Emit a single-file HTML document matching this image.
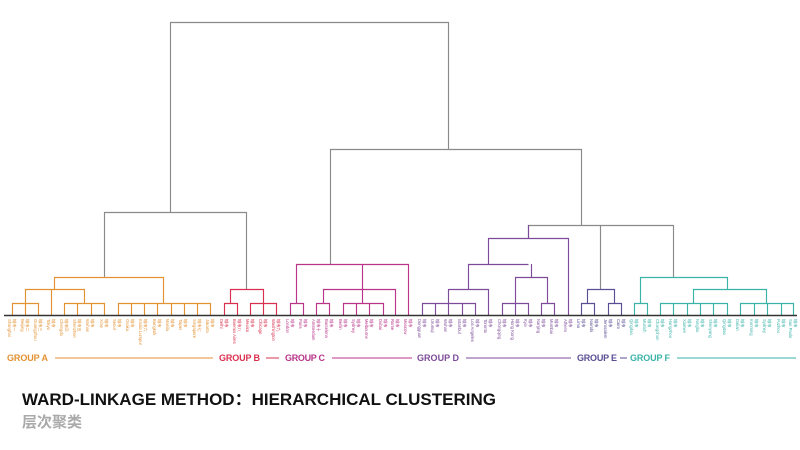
<!DOCTYPE html>
<html><head><meta charset="utf-8"><style>
html,body{margin:0;padding:0;background:#fff;width:800px;height:450px;overflow:hidden}
svg{display:block}
.lb{font-family:"Liberation Sans","Noto Sans CJK SC",sans-serif;font-size:4.2px}
.zh{font-family:"Noto Sans CJK SC",sans-serif;font-size:4.2px}
.g{font-family:"Liberation Sans",sans-serif;font-weight:bold;font-size:9px}
</style></head><body>
<svg width="800" height="450" viewBox="0 0 800 450" xmlns="http://www.w3.org/2000/svg">
<g fill="none" stroke-width="1.15">
<g stroke="#8a8a8a">
<path d="M170.5 212V22.5H448.5V149"/>
<path d="M104.5 277V212.5H246.5V289"/>
<path d="M330.5 264V149.5H581.5V225"/>
<path d="M528.5 238V225.5H673.5V277"/>
<path d="M600.5 289V225"/>
</g>
<g stroke="#e39233">
<path d="M12.5 315V303.5H38.5V315M25.5 315V289M51.5 315V289"/>
<path d="M25.5 289.5H84.5M84.5 289V303M64.5 315V303.5H104.5V315M77.5 315V303M91.5 315V303"/>
<path d="M54.5 289V277.5H163.5V303"/>
<path d="M118.5 315V303.5H210.5V315M131.5 315V303M144.5 315V303M157.5 315V303M171.5 315V303M184.5 315V303M197.5 315V303"/>
</g>
<g stroke="#d9304f">
<path d="M224.5 315V303.5H237.5V315M230.5 303V289.5H263.5V303M250.5 315V303.5H276.5V315M263.5 315V303"/>
</g>
<g stroke="#b8358a">
<path d="M290.5 315V303.5H303.5V315M296.5 303V264.5H408.5V315"/>
<path d="M316.5 315V303.5H329.5V315M323.5 303V289.5H395.5V315"/>
<path d="M343.5 315V303.5H383.5V315M356.5 315V303M369.5 315V303M362.5 303V264"/>
</g>
<g stroke="#7d4b9a">
<path d="M422.5 315V303.5H475.5V315M435.5 315V303M448.5 315V289M462.5 315V303"/>
<path d="M448.5 289.5H488.5V315M468.5 289V264.5H528.5"/>
<path d="M502.5 315V303.5H528.5V315M515.5 315V277.5H547.5V303M541.5 315V303.5H554.5V315M531.5 277V264"/>
<path d="M488.5 264V238.5H568.5V315M528.5 238V225"/>
</g>
<g stroke="#5a4e94">
<path d="M581.5 315V303.5H594.5V315M587.5 303V289.5H614.5V303M608.5 315V303.5H621.5V315"/>
</g>
<g stroke="#3bb3a9">
<path d="M634.5 315V303.5H647.5V315M640.5 303V277.5H727.5V289"/>
<path d="M660.5 315V303.5H727.5V315M673.5 315V303M687.5 315V303M700.5 315V303M713.5 315V303M693.5 303V289.5H766.5V303"/>
<path d="M740.5 315V303.5H793.5V315M754.5 315V303M767.5 315V303M781.5 315V303"/>
</g>
</g>
<line x1="4" y1="315.5" x2="797" y2="315.5" stroke="#333" stroke-width="1.6"/>

<g class="lb" fill="#e39233">
<text transform="translate(8,319) rotate(90)">Shanghai</text><text transform="translate(21,319) rotate(90)">Beijing</text><text transform="translate(34,319) rotate(90)">Guangzhou</text><text transform="translate(47,319) rotate(90)">Tokyo</text><text transform="translate(60,319) rotate(90)">Chengdu</text><text transform="translate(73,319) rotate(90)">Shenzhen</text><text transform="translate(86,319) rotate(90)">Wuhan</text><text transform="translate(100,319) rotate(90)">Xi'an</text><text transform="translate(113,319) rotate(90)">Seoul</text><text transform="translate(126,319) rotate(90)">Osaka</text><text transform="translate(139,319) rotate(90)">Kuala Lumpur</text><text transform="translate(153,319) rotate(90)">Bangkok</text><text transform="translate(166,319) rotate(90)">Manila</text><text transform="translate(179,319) rotate(90)">Taipei</text><text transform="translate(193,319) rotate(90)">Singapore</text><text transform="translate(206,319) rotate(90)">Jakarta</text>
</g>
<g class="zh" fill="#e39233">
<text transform="translate(13,319) rotate(90)">城市一</text><text transform="translate(26,319) rotate(90)">城市二</text><text transform="translate(39,319) rotate(90)">城市三</text><text transform="translate(52,319) rotate(90)">城市</text><text transform="translate(65,319) rotate(90)">城市四</text><text transform="translate(78,319) rotate(90)">城市五</text><text transform="translate(91,319) rotate(90)">城市</text><text transform="translate(105,319) rotate(90)">城市</text><text transform="translate(118,319) rotate(90)">城市</text><text transform="translate(131,319) rotate(90)">城市</text><text transform="translate(144,319) rotate(90)">城市六</text><text transform="translate(158,319) rotate(90)">城市</text><text transform="translate(171,319) rotate(90)">城市</text><text transform="translate(184,319) rotate(90)">城市</text><text transform="translate(198,319) rotate(90)">城市七</text><text transform="translate(211,319) rotate(90)">城市</text>
</g>
<g class="lb" fill="#d9304f">
<text transform="translate(220,319) rotate(90)">Delhi</text><text transform="translate(233,319) rotate(90)">Buenos Aires</text><text transform="translate(246,319) rotate(90)">Mexico</text><text transform="translate(259,319) rotate(90)">Chicago</text><text transform="translate(272,319) rotate(90)">Washington</text>
</g>
<g class="zh" fill="#d9304f">
<text transform="translate(225,319) rotate(90)">城市</text><text transform="translate(238,319) rotate(90)">城市八</text><text transform="translate(251,319) rotate(90)">城市</text><text transform="translate(264,319) rotate(90)">城市</text><text transform="translate(277,319) rotate(90)">城市九</text>
</g>
<g class="lb" fill="#b8358a">
<text transform="translate(286,319) rotate(90)">London</text><text transform="translate(299,319) rotate(90)">Paris</text><text transform="translate(312,319) rotate(90)">Amsterdam</text><text transform="translate(325,319) rotate(90)">Barcelona</text><text transform="translate(339,319) rotate(90)">Berlin</text><text transform="translate(352,319) rotate(90)">Sydney</text><text transform="translate(365,319) rotate(90)">Melbourne</text><text transform="translate(379,319) rotate(90)">Dubai</text><text transform="translate(391,319) rotate(90)">Rome</text><text transform="translate(404,319) rotate(90)">Moscow</text>
</g>
<g class="zh" fill="#b8358a">
<text transform="translate(291,319) rotate(90)">城市</text><text transform="translate(304,319) rotate(90)">城市</text><text transform="translate(317,319) rotate(90)">城市十</text><text transform="translate(330,319) rotate(90)">城市</text><text transform="translate(344,319) rotate(90)">城市</text><text transform="translate(357,319) rotate(90)">城市</text><text transform="translate(370,319) rotate(90)">城市</text><text transform="translate(384,319) rotate(90)">城市</text><text transform="translate(396,319) rotate(90)">城市</text><text transform="translate(409,319) rotate(90)">城市</text>
</g>
<g class="lb" fill="#7d4b9a">
<text transform="translate(418,319) rotate(90)">Dongguan</text><text transform="translate(431,319) rotate(90)">Urumqi</text><text transform="translate(444,319) rotate(90)">Wuhan</text><text transform="translate(458,319) rotate(90)">Istanbul</text><text transform="translate(471,319) rotate(90)">Los Angeles</text><text transform="translate(484,319) rotate(90)">Toronto</text><text transform="translate(498,319) rotate(90)">Chongqing</text><text transform="translate(511,319) rotate(90)">Hong Kong</text><text transform="translate(524,319) rotate(90)">Kyiv</text><text transform="translate(537,319) rotate(90)">Nanjing</text><text transform="translate(550,319) rotate(90)">Mumbai</text><text transform="translate(564,319) rotate(90)">Athens</text>
</g>
<g class="zh" fill="#7d4b9a">
<text transform="translate(423,319) rotate(90)">城市</text><text transform="translate(436,319) rotate(90)">城市</text><text transform="translate(449,319) rotate(90)">城市</text><text transform="translate(463,319) rotate(90)">城市</text><text transform="translate(476,319) rotate(90)">城市</text><text transform="translate(489,319) rotate(90)">城市</text><text transform="translate(503,319) rotate(90)">城市</text><text transform="translate(516,319) rotate(90)">城市</text><text transform="translate(529,319) rotate(90)">城市</text><text transform="translate(542,319) rotate(90)">城市</text><text transform="translate(555,319) rotate(90)">城市</text><text transform="translate(569,319) rotate(90)">城市</text>
</g>
<g class="lb" fill="#5a4e94">
<text transform="translate(577,319) rotate(90)">Lima</text><text transform="translate(590,319) rotate(90)">Nairobi</text><text transform="translate(604,319) rotate(90)">Jerusalem</text><text transform="translate(617,319) rotate(90)">Cairo</text>
</g>
<g class="zh" fill="#5a4e94">
<text transform="translate(582,319) rotate(90)">城市</text><text transform="translate(595,319) rotate(90)">城市</text><text transform="translate(609,319) rotate(90)">城市</text><text transform="translate(622,319) rotate(90)">城市</text>
</g>
<g class="lb" fill="#3bb3a9">
<text transform="translate(630,319) rotate(90)">Qingdao</text><text transform="translate(643,319) rotate(90)">Munich</text><text transform="translate(656,319) rotate(90)">Changchun</text><text transform="translate(669,319) rotate(90)">Hangzhou</text><text transform="translate(683,319) rotate(90)">Xiamen</text><text transform="translate(696,319) rotate(90)">Ningbo</text><text transform="translate(709,319) rotate(90)">Shenyang</text><text transform="translate(723,319) rotate(90)">Qingdao</text><text transform="translate(736,319) rotate(90)">Dalian</text><text transform="translate(750,319) rotate(90)">Kunming</text><text transform="translate(763,319) rotate(90)">Sydney</text><text transform="translate(777,319) rotate(90)">Fuzhou</text><text transform="translate(789,319) rotate(90)">Sao Paulo</text>
</g>
<g class="zh" fill="#3bb3a9">
<text transform="translate(635,319) rotate(90)">城市</text><text transform="translate(648,319) rotate(90)">城市</text><text transform="translate(661,319) rotate(90)">城市</text><text transform="translate(674,319) rotate(90)">城市</text><text transform="translate(688,319) rotate(90)">城市</text><text transform="translate(701,319) rotate(90)">城市</text><text transform="translate(714,319) rotate(90)">城市</text><text transform="translate(728,319) rotate(90)">城市</text><text transform="translate(741,319) rotate(90)">城市</text><text transform="translate(755,319) rotate(90)">城市</text><text transform="translate(768,319) rotate(90)">城市</text><text transform="translate(782,319) rotate(90)">城市</text><text transform="translate(794,319) rotate(90)">城市</text>
</g>

<text class="g" x="7" y="361" fill="#e39233" textLength="41">GROUP A</text>
<line x1="55" y1="358" x2="213" y2="358" stroke="#e39233" stroke-width="1"/>
<text class="g" x="219" y="361" fill="#d9304f" textLength="41">GROUP B</text>
<line x1="266" y1="358" x2="279" y2="358" stroke="#d9304f" stroke-width="1"/>
<text class="g" x="285" y="361" fill="#b8358a" textLength="40">GROUP C</text>
<line x1="332" y1="358" x2="412" y2="358" stroke="#b8358a" stroke-width="1"/>
<text class="g" x="417" y="361" fill="#7d4b9a" textLength="42">GROUP D</text>
<line x1="466" y1="358" x2="571" y2="358" stroke="#7d4b9a" stroke-width="1"/>
<text class="g" x="577" y="361" fill="#5a4e94" textLength="40">GROUP E</text>
<line x1="620" y1="358" x2="627" y2="358" stroke="#5a4e94" stroke-width="1"/>
<text class="g" x="630" y="361" fill="#3bb3a9" textLength="40">GROUP F</text>
<line x1="677" y1="358" x2="796" y2="358" stroke="#3bb3a9" stroke-width="1"/>

<text x="22" y="405" font-family="'Liberation Sans','Noto Sans CJK SC',sans-serif" font-weight="bold" font-size="16.5" fill="#111" textLength="474" lengthAdjust="spacingAndGlyphs">WARD-LINKAGE METHOD：HIERARCHICAL CLUSTERING</text>
<text x="22" y="427" font-family="'Noto Sans CJK SC',sans-serif" font-weight="bold" font-size="15" fill="#aaa">层次聚类</text>
</svg>
</body></html>
